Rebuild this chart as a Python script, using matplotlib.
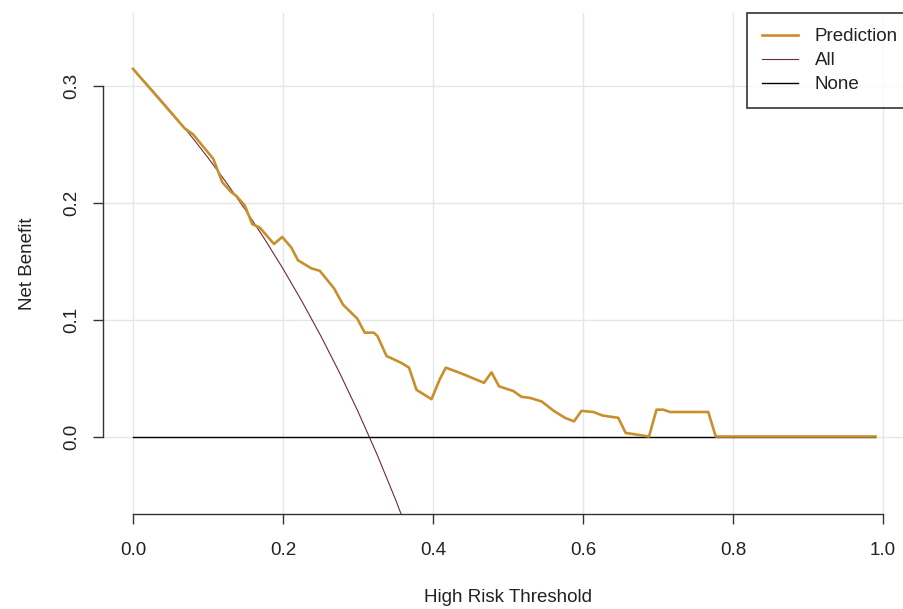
import matplotlib
matplotlib.use("Agg")
import matplotlib.pyplot as plt

plt.rcParams['font.family'] = ['Liberation Sans', 'DejaVu Sans']

# umbrales y beneficio neto
umbral_pred = [0.00, 0.069, 0.080, 0.107, 0.119, 0.130, 0.138, 0.149, 0.159, 0.169,
               0.188, 0.199, 0.211, 0.220, 0.238, 0.249, 0.268, 0.280, 0.299, 0.309,
               0.321, 0.326, 0.338, 0.358, 0.368, 0.378, 0.398, 0.409, 0.417, 0.438,
               0.468, 0.478, 0.488, 0.507, 0.518, 0.530, 0.545, 0.561, 0.576, 0.588,
               0.598, 0.614, 0.626, 0.647, 0.657, 0.668, 0.688, 0.698, 0.707, 0.716,
               0.767, 0.777, 0.990]
nb_pred = [0.315, 0.264, 0.259, 0.238, 0.218, 0.210, 0.206, 0.198, 0.182, 0.179,
           0.165, 0.171, 0.162, 0.151, 0.144, 0.142, 0.127, 0.113, 0.101, 0.089,
           0.089, 0.086, 0.069, 0.063, 0.059, 0.040, 0.032, 0.049, 0.059, 0.054,
           0.046, 0.055, 0.043, 0.039, 0.034, 0.033, 0.030, 0.022, 0.016, 0.013,
           0.022, 0.021, 0.018, 0.016, 0.003, 0.002, 0.000, 0.023, 0.023, 0.021,
           0.021, 0.000, 0.000]

umbral_all = [0.0, 0.025, 0.05, 0.075, 0.10, 0.125, 0.15, 0.175, 0.20, 0.225,
              0.25, 0.275, 0.30, 0.325, 0.35, 0.375]
nb_all = [0.315, 0.2974, 0.2789, 0.2595, 0.2389, 0.2171, 0.1941, 0.1697, 0.1438, 0.1161,
          0.0867, 0.0552, 0.0214, -0.0148, -0.0539, -0.096]

umbral_none = [0.0, 0.99]
nb_none = [0.0, 0.0]

xticks = [0.0, 0.2, 0.4, 0.6, 0.8, 1.0]
yticks = [0.0, 0.1, 0.2, 0.3]

fig = plt.figure(figsize=(9.04, 6.09), dpi=100)
ax = fig.add_axes([103 / 904, 95 / 609, 810 / 904, 501 / 609])

# rejilla gris claro
for x in xticks:
    ax.axvline(x, color='#e6e6e6', lw=1, zorder=0)
for y in yticks:
    ax.axhline(y, color='#e6e6e6', lw=1, zorder=0)

ax.plot(umbral_pred, nb_pred, color='#c8902c', lw=1.9, label='Prediction', zorder=3)
ax.plot(umbral_all, nb_all, color='#6e2a3a', lw=0.8, label='All', zorder=2)
ax.plot(umbral_none, nb_none, color='black', lw=1.0, label='None', zorder=2)

ax.set_xlim(-0.04, 1.04)
ax.set_ylim(-0.0664, 0.3629)

ax.set_xticks(xticks)
ax.set_xticklabels([f'{v:.1f}' for v in xticks])
ax.set_yticks(yticks)
ax.set_yticklabels([f'{v:.1f}' for v in yticks], rotation=90, va='center')

for s in ['top', 'right']:
    ax.spines[s].set_visible(False)
ax.spines['left'].set_bounds(0, 0.3)
ax.spines['bottom'].set_bounds(0, 1.0)
for s in ['left', 'bottom']:
    ax.spines[s].set_color('#333333')
    ax.spines[s].set_linewidth(1.0)

ax.tick_params(axis='both', length=7.2, width=1, color='#333333',
               labelsize=13.5, labelcolor='#222222')
ax.tick_params(axis='x', pad=13)
ax.tick_params(axis='y', pad=9)

ax.set_xlabel('High Risk Threshold', fontsize=13.5, color='#222222', va='center')
ax.xaxis.set_label_coords(0.5, (514 - 598) / 501)
ax.set_ylabel('Net Benefit', fontsize=13.5, color='#222222', va='center')
ax.yaxis.set_label_coords((28 - 103) / 810, 0.5)

leg = ax.legend(loc='upper right', bbox_to_anchor=(1.0, 1.0), borderaxespad=0,
                fontsize=13.5, frameon=True, fancybox=False, edgecolor='black',
                handlelength=1.9, handletextpad=0.9, labelspacing=0.37,
                borderpad=0.8)
leg.get_frame().set_linewidth(1.2)
for t in leg.get_texts():
    t.set_color('#222222')

fig.savefig('out.png', dpi=100)
